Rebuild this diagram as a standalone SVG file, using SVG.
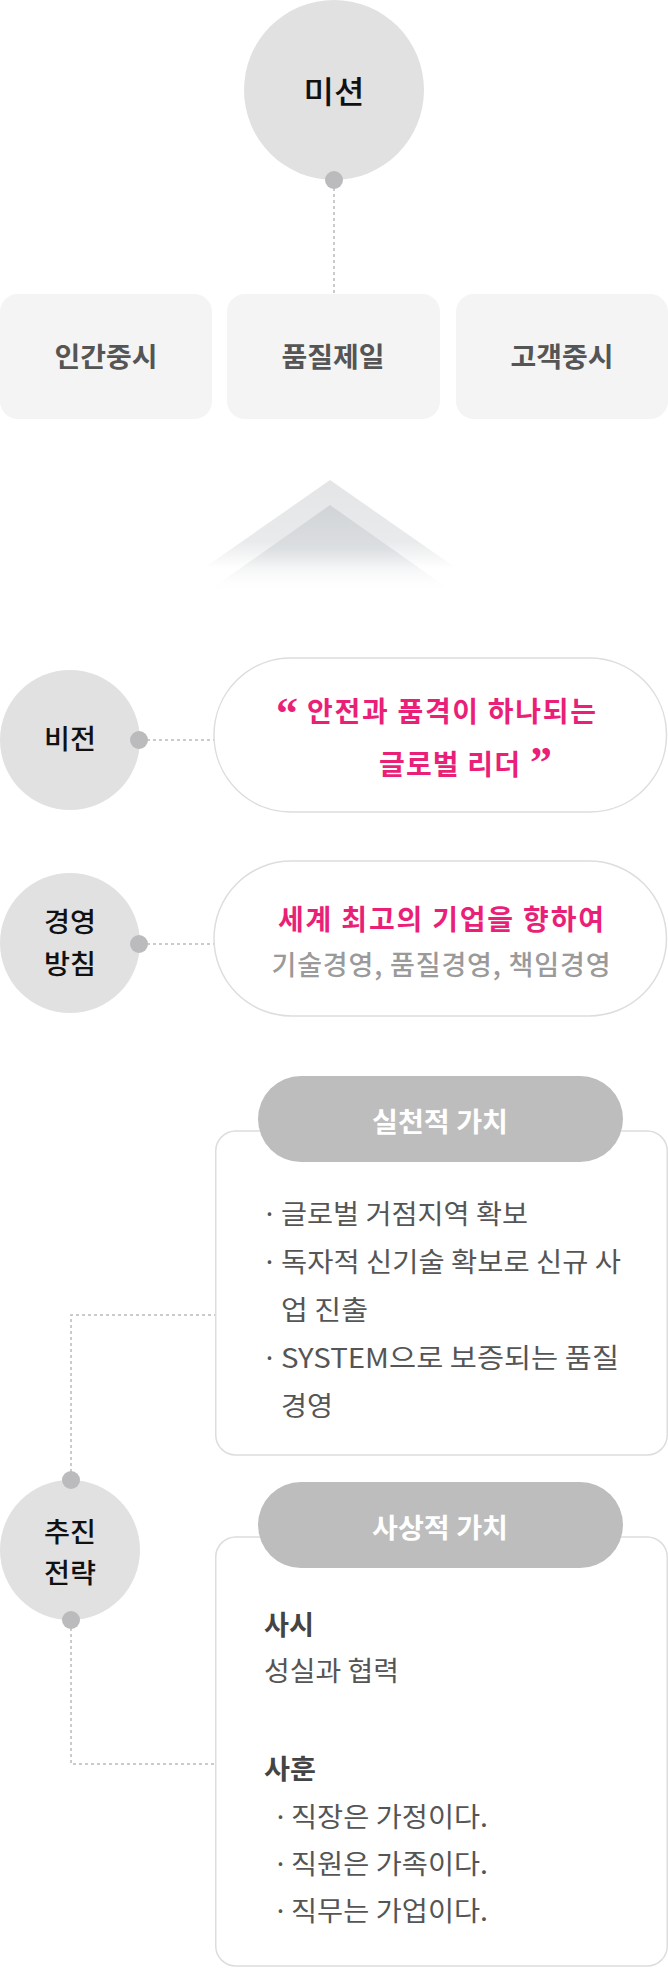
<svg xmlns="http://www.w3.org/2000/svg" width="668" height="1984" viewBox="0 0 668 1984">
<style>
text{font-family:"Noto Sans CJK KR","Noto Sans",sans-serif}
.circ{fill:#e1e1e1}
.dot{fill:#bbbbbd}
.dash{fill:none;stroke:#bbbbbb;stroke-width:1.5;stroke-dasharray:3 3}
.tile{fill:#f4f4f4}
.tileT{font-size:27px;font-weight:700;fill:#555;text-anchor:middle}
.cl{font-size:27px;font-weight:500;fill:#111;text-anchor:middle}
.pill{fill:#fff;stroke:#dddddd;stroke-width:1.5}
.pink{fill:#ea1f78;font-weight:700}
.card{fill:#fff;stroke:#dddddd;stroke-width:1.5}
.head{fill:#bdbdbd}
.headT{font-size:27px;font-weight:700;fill:#fff;text-anchor:middle}
.body{font-size:27px;font-weight:400;fill:#555}
.bold{font-size:27px;font-weight:700;fill:#444}
.q{font-family:"Liberation Serif",serif;font-weight:700;font-size:44px;fill:#ea1f78}
</style>
<defs>
<linearGradient id="gOuter" x1="0" y1="480" x2="0" y2="568" gradientUnits="userSpaceOnUse">
<stop offset="0" stop-color="#e3e5e7" stop-opacity="1"/>
<stop offset="0.7" stop-color="#e3e5e7" stop-opacity="0.8"/>
<stop offset="1" stop-color="#e3e5e7" stop-opacity="0"/>
</linearGradient>
<linearGradient id="gInner" x1="0" y1="505" x2="0" y2="594" gradientUnits="userSpaceOnUse">
<stop offset="0" stop-color="#d1d4d7" stop-opacity="1"/>
<stop offset="0.5" stop-color="#d8dbde" stop-opacity="0.8"/>
<stop offset="1" stop-color="#ffffff" stop-opacity="0"/>
</linearGradient>
</defs>

<g id="connectors">
<line class="dash" x1="334" y1="182" x2="334" y2="294"/>
<line class="dash" x1="141" y1="740" x2="214" y2="740"/>
<line class="dash" x1="141" y1="944" x2="214" y2="944"/>
<polyline class="dash" points="71,1478 71,1315 215,1315"/>
<polyline class="dash" points="71,1622 71,1764 215,1764"/>
</g>

<g id="mission">
<circle class="circ" cx="334" cy="90" r="90"/>
<text class="cl" x="334" y="103" style="font-size:31px" textLength="61" lengthAdjust="spacingAndGlyphs">미션</text>
<circle class="dot" cx="334" cy="180" r="9"/>
</g>

<g id="value-1">
<rect class="tile" x="0" y="294" width="212" height="125" rx="18"/>
<text class="tileT" x="106" y="367" textLength="103" lengthAdjust="spacingAndGlyphs">인간중시</text>
</g>
<g id="value-2">
<rect class="tile" x="227" y="294" width="213" height="125" rx="18"/>
<text class="tileT" x="333" y="367" textLength="103" lengthAdjust="spacingAndGlyphs">품질제일</text>
</g>
<g id="value-3">
<rect class="tile" x="456" y="294" width="212" height="125" rx="18"/>
<text class="tileT" x="562" y="367" textLength="103" lengthAdjust="spacingAndGlyphs">고객중시</text>
</g>

<g id="chevron">
<polygon points="330,480 456,568 204,568" fill="url(#gOuter)"/>
<polygon points="330,505 456,594 204,594" fill="url(#gInner)"/>
</g>

<g id="vision-label">
<circle class="circ" cx="70" cy="740" r="70"/>
<text class="cl" x="70" y="749" textLength="52" lengthAdjust="spacingAndGlyphs">비전</text>
<circle class="dot" cx="139" cy="740" r="9"/>
</g>
<g id="vision">
<rect class="pill" x="214" y="658" width="452.5" height="154" rx="77"/>
<text class="q" x="276" y="728">“</text>
<text class="pink" x="307" y="722" font-size="28" textLength="289" lengthAdjust="spacing">안전과 품격이 하나되는</text>
<text class="pink" x="379" y="775" font-size="28" textLength="141" lengthAdjust="spacing">글로벌 리더</text>
<text class="q" x="530" y="777">”</text>
</g>

<g id="policy-label">
<circle class="circ" cx="70" cy="943" r="70"/>
<text class="cl" x="70" y="932" textLength="52" lengthAdjust="spacingAndGlyphs">경영</text>
<text class="cl" x="70" y="974" textLength="52" lengthAdjust="spacingAndGlyphs">방침</text>
<circle class="dot" cx="139" cy="944" r="9"/>
</g>
<g id="policy">
<rect class="pill" x="214" y="861" width="452.5" height="155" rx="77.5"/>
<text class="pink" x="441" y="930" font-size="28" text-anchor="middle" textLength="326" lengthAdjust="spacing">세계 최고의 기업을 향하여</text>
<text x="441" y="975" font-size="27" font-weight="500" fill="#9a9a9a" text-anchor="middle" textLength="339" lengthAdjust="spacing">기술경영, 품질경영, 책임경영</text>
</g>

<g id="strategy-label">
<circle class="circ" cx="70" cy="1550" r="70"/>
<text class="cl" x="70" y="1542" textLength="52" lengthAdjust="spacingAndGlyphs">추진</text>
<text class="cl" x="70" y="1583" textLength="52" lengthAdjust="spacingAndGlyphs">전략</text>
<circle class="dot" cx="71" cy="1480" r="9"/>
<circle class="dot" cx="71" cy="1620" r="9"/>
</g>

<g id="practical-value">
<rect class="card" x="215.75" y="1131" width="451.5" height="324" rx="20"/>
<rect class="head" x="258" y="1076" width="365" height="86" rx="43"/>
<text class="headT" x="440" y="1132" textLength="136" lengthAdjust="spacingAndGlyphs">실천적 가치</text>
<text class="body" x="262" y="1224">·</text>
<text class="body" x="281" y="1224" textLength="247" lengthAdjust="spacingAndGlyphs">글로벌 거점지역 확보</text>
<text class="body" x="262" y="1272">·</text>
<text class="body" x="281" y="1272" textLength="340" lengthAdjust="spacingAndGlyphs">독자적 신기술 확보로 신규 사</text>
<text class="body" x="281" y="1320" textLength="87" lengthAdjust="spacingAndGlyphs">업 진출</text>
<text class="body" x="262" y="1368">·</text>
<text class="body" x="281" y="1368" textLength="338" lengthAdjust="spacingAndGlyphs">SYSTEM으로 보증되는 품질</text>
<text class="body" x="281" y="1416" textLength="52" lengthAdjust="spacingAndGlyphs">경영</text>
</g>

<g id="ideological-value">
<rect class="card" x="215.75" y="1537" width="451.5" height="429" rx="20"/>
<rect class="head" x="258" y="1482" width="365" height="86" rx="43"/>
<text class="headT" x="440" y="1538" textLength="136" lengthAdjust="spacingAndGlyphs">사상적 가치</text>
<text class="bold" x="264" y="1635" textLength="50" lengthAdjust="spacingAndGlyphs">사시</text>
<text class="body" x="264" y="1681" textLength="135" lengthAdjust="spacingAndGlyphs">성실과 협력</text>
<text class="bold" x="264" y="1779" textLength="52" lengthAdjust="spacingAndGlyphs">사훈</text>
<text class="body" x="273" y="1827">·</text>
<text class="body" x="291" y="1827" textLength="197" lengthAdjust="spacingAndGlyphs">직장은 가정이다.</text>
<text class="body" x="273" y="1874">·</text>
<text class="body" x="291" y="1874" textLength="197" lengthAdjust="spacingAndGlyphs">직원은 가족이다.</text>
<text class="body" x="273" y="1921">·</text>
<text class="body" x="291" y="1921" textLength="197" lengthAdjust="spacingAndGlyphs">직무는 가업이다.</text>
</g>
</svg>
